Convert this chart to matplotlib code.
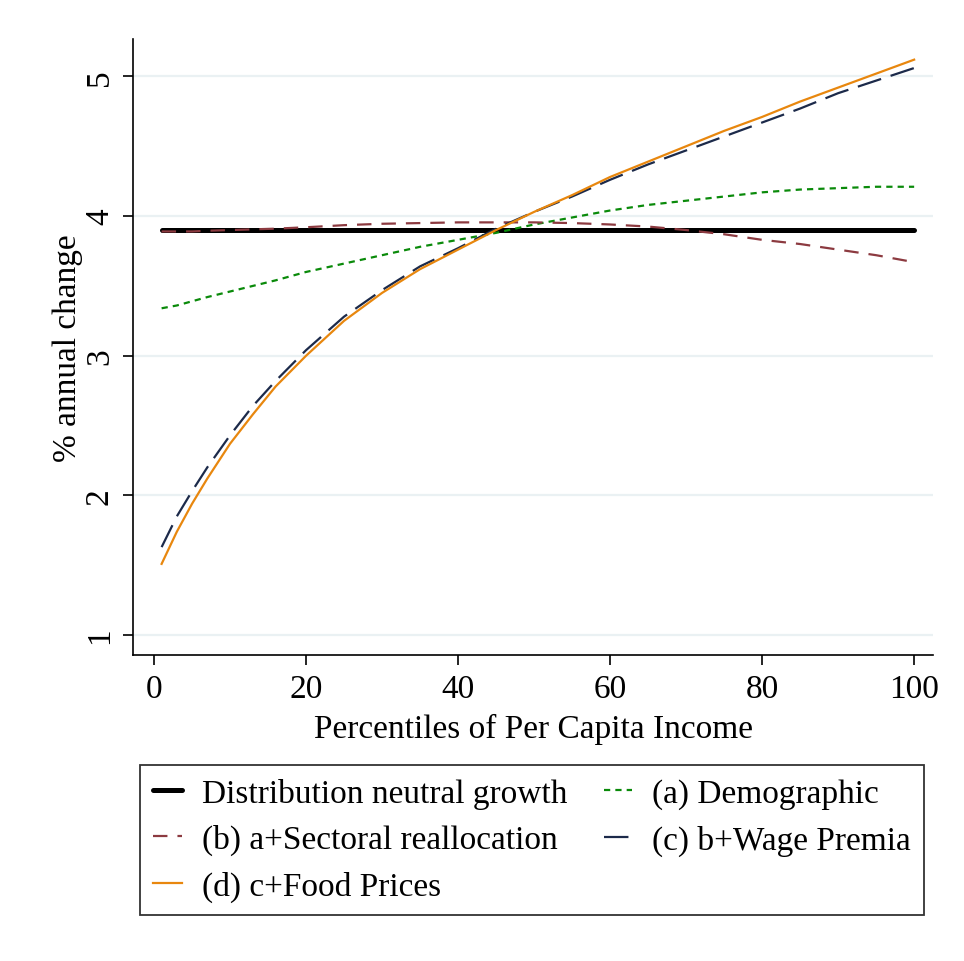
import matplotlib.pyplot as plt

plt.rcParams['font.family'] = ['Liberation Serif', 'DejaVu Serif']

# percentiles of per capita income
pct = [1, 3, 5, 7, 10, 13, 16, 20, 25, 30, 35, 40, 45, 50, 55, 60, 65, 70, 75, 80, 85, 90, 95, 100]

neutral = [3.9] * len(pct)
demographic = [3.34, 3.36, 3.39, 3.42, 3.46, 3.50, 3.54, 3.60, 3.66, 3.72, 3.78, 3.83,
               3.88, 3.94, 3.99, 4.04, 4.08, 4.11, 4.14, 4.17, 4.19, 4.20, 4.21, 4.21]
sectoral = [3.89, 3.89, 3.89, 3.895, 3.90, 3.905, 3.91, 3.92, 3.935, 3.945, 3.95, 3.955,
            3.955, 3.955, 3.95, 3.94, 3.925, 3.90, 3.87, 3.83, 3.80, 3.76, 3.72, 3.67]
wage = [1.63, 1.85, 2.03, 2.20, 2.43, 2.64, 2.82, 3.04, 3.28, 3.47, 3.64, 3.77,
        3.91, 4.03, 4.14, 4.26, 4.37, 4.47, 4.57, 4.67, 4.77, 4.88, 4.97, 5.06]
food = [1.51, 1.74, 1.94, 2.12, 2.37, 2.58, 2.78, 3.00, 3.25, 3.45, 3.62, 3.76,
        3.90, 4.03, 4.15, 4.28, 4.39, 4.50, 4.61, 4.71, 4.82, 4.92, 5.02, 5.12]

yticks = [1, 2, 3, 4, 5]
xticks = [0, 20, 40, 60, 80, 100]

fig = plt.figure(figsize=(9.64, 9.62), dpi=100)
ax = fig.add_axes([0.138, 0.318, 0.830, 0.640])

for y in yticks:
    ax.axhline(y, color='#eaf1f3', lw=1.6, zorder=0)

h0, = ax.plot(pct, neutral, color='black', lw=3.6, solid_capstyle='round',
              label='Distribution neutral growth')
h1, = ax.plot(pct, demographic, color='#0a8a0a', lw=1.6, dashes=(2.8, 2.3),
              label='(a) Demographic')
h2, = ax.plot(pct, sectoral, color='#8c3a40', lw=1.6, dashes=(6.5, 4.5),
              label='(b) a+Sectoral reallocation')
h3, = ax.plot(pct, wage, color='#1c2a4a', lw=1.6, dashes=(11, 4.5),
              label='(c) b+Wage Premia')
h4, = ax.plot(pct, food, color='#e8870e', lw=1.6,
              label='(d) c+Food Prices')

ax.set_xlim(-2.76, 102.5)
ax.set_ylim(0.857, 5.265)
ax.set_xticks(xticks)
ax.set_yticks(yticks)
ax.tick_params(labelsize=24, length=7, width=1.2, direction='out', pad=6)
plt.setp(ax.get_yticklabels(), rotation=90, va='center')
ax.spines['top'].set_visible(False)
ax.spines['right'].set_visible(False)
ax.spines['left'].set_linewidth(1.2)
ax.spines['bottom'].set_linewidth(1.2)

ax.set_xlabel('Percentiles of Per Capita Income', fontsize=24, labelpad=7)
ax.set_ylabel('% annual change', fontsize=24, labelpad=1)

# row-wise order like the original (matplotlib fills columns first)
handles = [h0, h2, h4, h1, h3]
leg = fig.legend(handles=handles, labels=[h.get_label() for h in handles],
                 loc='upper center', bbox_to_anchor=(0.552, 0.204),
                 borderaxespad=0, ncol=2, fontsize=24, frameon=True, fancybox=False,
                 edgecolor='black', handlelength=0.85, handletextpad=0.6,
                 labelspacing=0.45, borderpad=0.4, columnspacing=1.1)
leg.get_frame().set_linewidth(1.3)

fig.savefig('out.png', dpi=100)
